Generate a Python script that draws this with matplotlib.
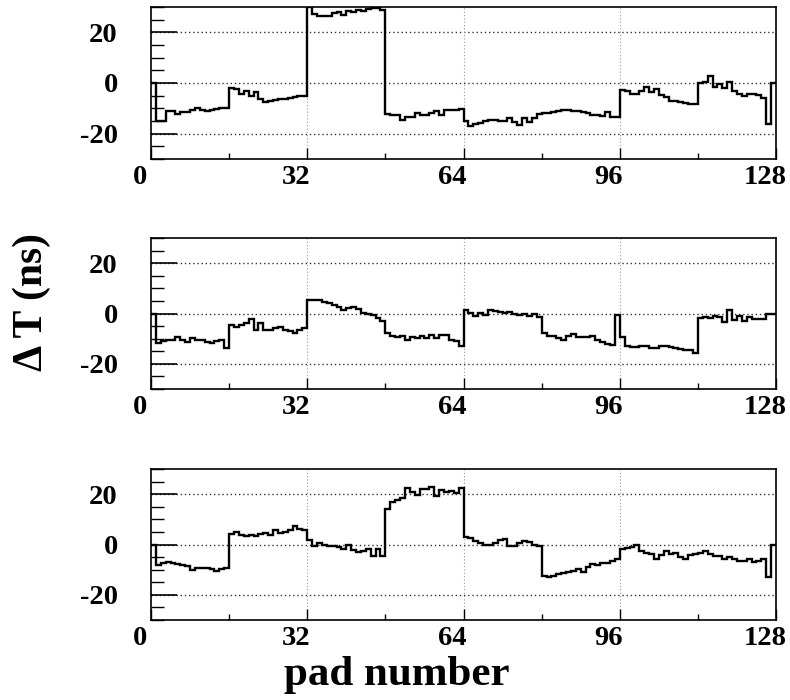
import numpy as np
import matplotlib
matplotlib.use('Agg')
import matplotlib.pyplot as plt
import matplotlib.transforms as mtransforms
from matplotlib.ticker import MultipleLocator

# time offset per pad (ns), pads 0..127, one list per readout plane
dt_top = [0, -15, -15, -11, -11, -12.4, -11.5, -11.5, -10.5, -9.7, -10.5, -11, -10.5, -10.4, -10, -9.7,
          -2, -2.4, -4.4, -3, -5, -3.5, -6.4, -7.5, -7.2, -6.8, -6.5, -6.3, -6, -5.7, -5.3, -5,
          30, 27.2, 26.3, 26.3, 26.5, 27.5, 28, 27, 28.5, 28, 29, 28.3, 29.2, 29.5, 29.5, 28.8,
          -12.4, -12.8, -12.5, -14.5, -13.5, -13.5, -12, -12.7, -12.5, -12, -11, -12.5, -10.5, -10.5, -10.5, -10.2,
          -15, -16.8, -16, -15.7, -15, -14.5, -14.5, -15, -15, -13.8, -15.5, -16.4, -14, -15.5, -14, -12.2,
          -12, -12, -11.5, -11, -10.5, -10.5, -11, -11, -11.5, -12, -12.5, -12.8, -13, -11.5, -13.3, -13.3,
          -2.7, -3, -4.4, -4.4, -3, -1.5, -3.5, -2.5, -4.8, -5.5, -7, -7, -7.5, -8, -8.4, -8.4,
          0, 0.5, 2.7, -1.7, -0.5, -2, 0.3, -3, -4.5, -5.3, -4.5, -4.5, -4.7, -5.8, -16, 0]

dt_mid = [0, -11.7, -11, -10.4, -10.4, -9.3, -10.4, -11.5, -9.7, -10.7, -10.7, -11.5, -11.7, -10.8, -10.4, -13.7,
          -4.4, -5.3, -4.4, -3.7, -2.1, -6.7, -3.7, -6.4, -6.4, -5.7, -5.3, -6.4, -7, -7.7, -6.4, -5.7,
          5.2, 5.2, 5.2, 4.5, 4, 3.2, 2.7, 1.3, 2.3, 2.7, 1.6, 0.3, 0, -0.4, -1.7, -3,
          -7.7, -8.8, -9.3, -9, -10.7, -9.3, -9.7, -8.8, -9.7, -8.4, -9.7, -8.4, -8.4, -10.4, -11, -12.8,
          1.3, 0.3, -0.8, 0.3, -0.5, 1.2, 0.9, 0.5, 0.3, 0.5, 0, -0.4, 0, -0.8, 0, -1.3,
          -7.7, -8.8, -9, -9.7, -10.7, -8.8, -8, -9.3, -9.3, -9.3, -9, -10.4, -11.5, -12, -12.4, -0.4,
          -9.3, -13, -13.3, -13.3, -12.8, -12.8, -13.7, -13.7, -12.8, -12.8, -13.3, -13.7, -14, -14.4, -14.7, -15.5,
          -1.7, -1.3, -1.7, -0.8, -1.3, -3.5, 1.3, -2.4, -0.8, -3, -1.3, -2.1, -2.1, -2.1, 0, 0]

dt_bot = [0, -8.3, -7.5, -7, -7.5, -7.9, -8.3, -8.6, -10.1, -9.2, -9.2, -9.2, -9.6, -10.5, -9.6, -9.5,
          4.3, 4.9, 3.6, 3.3, 3.9, 3.3, 4.3, 4.6, 3.6, 5.7, 4.6, 4.9, 5.9, 7.2, 6.2, 5.7,
          1.7, -0.7, 0.7, 0, -0.4, -0.7, -0.9, -1.7, 0, -2, -3, -2.6, -1.7, -4.6, -1.7, -4.6,
          14, 16.7, 17.5, 18.4, 22.4, 21, 19.7, 22, 22, 23, 19.3, 21.6, 20.8, 21.2, 20.5, 22.4,
          3, 2.6, 1.3, 0.7, 0, 0, 0.7, 1.7, 2.2, -0.4, -0.7, 0.4, 1.3, 0.9, 0, -0.4,
          -12.5, -12.8, -12.5, -11.8, -11.2, -10.9, -10.5, -9.9, -10.9, -8.8, -7.9, -8.3, -7.5, -7.2, -6.6, -5.9,
          -1.7, -1.3, -0.9, 0, -2.6, -3.3, -3.9, -5.9, -4.3, -2.6, -3.9, -3.5, -4.8, -5.9, -4.3, -3.9,
          -3.3, -2.6, -3.9, -4.6, -4.6, -5.7, -4.8, -5.9, -6.6, -6.6, -5.9, -7, -6.6, -5.9, -12.8, 0]

x_ticks = [0, 32, 64, 96, 128]
y_ticks = [-20, 0, 20]

plt.rcParams['font.family'] = 'Liberation Serif'
plt.rcParams['font.weight'] = 'bold'
plt.rcParams['axes.unicode_minus'] = False

fig = plt.figure(figsize=(7.9, 7.0), dpi=100)
W, H = 790.0, 700.0
# axes boxes in pixels: (left, top, right, bottom)
boxes = [(151, 7, 776, 159), (151, 238, 776, 389), (151, 469, 776, 620)]
edges = np.arange(129)

for dt, (l, t, r, b) in zip([dt_top, dt_mid, dt_bot], boxes):
    ax = fig.add_axes([l / W, 1 - b / H, (r - l) / W, (b - t) / H])
    ax.stairs(dt, edges, color='black', lw=1.7, baseline=None)
    ax.set_xlim(0, 128)
    ax.set_ylim(-30, 30)
    ax.set_xticks(x_ticks)
    ax.set_yticks(y_ticks)
    ax.xaxis.set_minor_locator(MultipleLocator(16))
    ax.yaxis.set_minor_locator(MultipleLocator(5))
    ax.tick_params(axis='x', which='major', direction='in', length=8, width=1, pad=4, labelsize=20.5)
    ax.tick_params(axis='x', which='minor', direction='in', length=4, width=1)
    ax.tick_params(axis='y', which='major', direction='in', length=19, width=1.2, pad=24, labelsize=20.5)
    ax.tick_params(axis='y', which='minor', direction='in', length=9.5, width=1)
    for s in ax.spines.values():
        s.set_linewidth(1.2)
    # dotted grid: darker horizontals, lighter verticals
    for yv in y_ticks:
        ax.axhline(yv, color='#333333', lw=1, ls=(0, (1, 2)), zorder=0)
    for xv in [32, 64, 96]:
        ax.axvline(xv, color='#999999', lw=0.8, ls=(0, (1, 2)), zorder=0)
    # x labels sit a little left of their ticks
    shift = mtransforms.ScaledTranslation(-0.11, 0, fig.dpi_scale_trans)
    for lab in ax.get_xticklabels():
        lab.set_transform(lab.get_transform() + shift)
        lab.set_fontweight('bold')
    for lab in ax.get_yticklabels():
        lab.set_fontweight('bold')

fig.text(32 / W, 1 - 302 / H, 'Δ T (ns)', rotation=90, ha='center', va='center',
         fontsize=30, fontweight='bold')
fig.text(397 / W, 1 - 685 / H, 'pad number', ha='center', va='baseline',
         fontsize=31, fontweight='bold')

fig.savefig('out.png', dpi=100)
